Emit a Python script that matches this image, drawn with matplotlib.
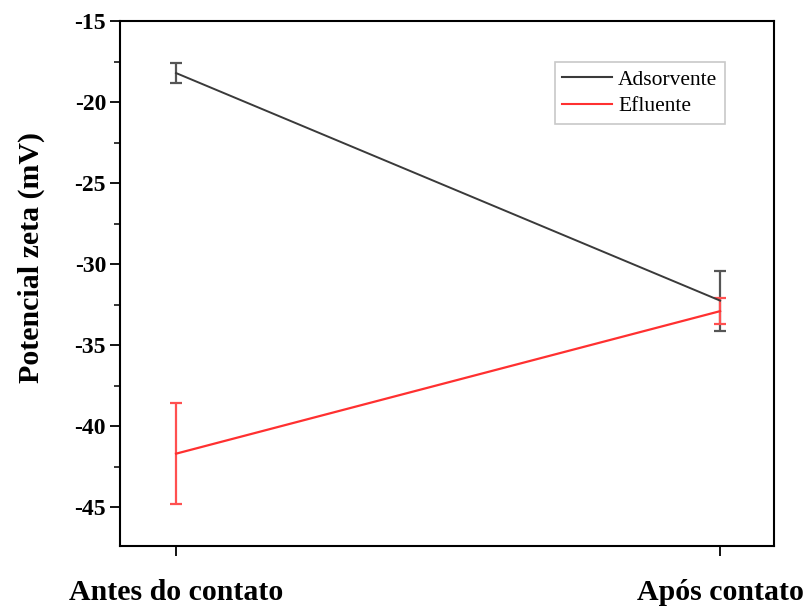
import matplotlib
matplotlib.use("Agg")
import matplotlib.pyplot as plt
from matplotlib.lines import Line2D
from matplotlib.ticker import MultipleLocator

# dados
etapas = ["Antes do contato", "Após contato"]
adsorvente = [-18.2, -32.25]
adsorvente_err = [0.6, 1.85]
efluente = [-41.7, -32.9]
efluente_err = [3.1, 0.8]

plt.rcParams["font.family"] = ["Liberation Serif", "DejaVu Serif"]
plt.rcParams["axes.unicode_minus"] = False

fig = plt.figure(figsize=(8.09, 6.06), dpi=100)
ax = fig.add_axes([0.1483, 0.099, 0.8084, 0.866])

cor_ads = "#3a3a3a"
cor_efl = "#ff3030"
x = list(range(len(etapas)))
ax.errorbar(x, adsorvente, yerr=adsorvente_err, color=cor_ads, ecolor="#555555",
            linewidth=1.4, elinewidth=1.6, capsize=4.5, capthick=1.6)
ax.errorbar(x, efluente, yerr=efluente_err, color=cor_efl, ecolor="#ff5050",
            linewidth=1.6, elinewidth=1.6, capsize=4.5, capthick=1.6)

ax.set_xlim(-0.103, 1.099)
ax.set_ylim(-47.4, -15)
ax.set_xticks(x)
ax.set_xticklabels(etapas, fontsize=21.5, fontweight="bold")
ax.yaxis.set_major_locator(MultipleLocator(5))
ax.yaxis.set_minor_locator(MultipleLocator(2.5))
for lab in ax.get_yticklabels():
    lab.set_fontweight("bold")
ax.tick_params(axis="y", labelsize=17, direction="out", length=7, width=1.3, pad=3)
ax.tick_params(axis="y", which="minor", direction="out", length=4, width=1.1)
ax.tick_params(axis="x", direction="out", length=7, width=1.3, pad=17)
ax.set_ylabel("Potencial zeta (mV)", fontsize=21.5, fontweight="bold")
ax.yaxis.set_label_coords(-0.115, 0.549)
for s in ax.spines.values():
    s.set_linewidth(1.5)

handles = [Line2D([], [], color=cor_ads, linewidth=1.5),
           Line2D([], [], color=cor_efl, linewidth=1.5)]
leg = ax.legend(handles, ["Adsorvente", "Efluente"], loc="upper right",
                bbox_to_anchor=(0.925, 0.922), fontsize=15.5,
                frameon=True, fancybox=False, edgecolor="#bbbbbb",
                handlelength=2.3, handletextpad=0.3, borderpad=0.35,
                labelspacing=0.3, borderaxespad=0)
leg.get_frame().set_linewidth(1.2)

fig.savefig("out.png", dpi=100)
